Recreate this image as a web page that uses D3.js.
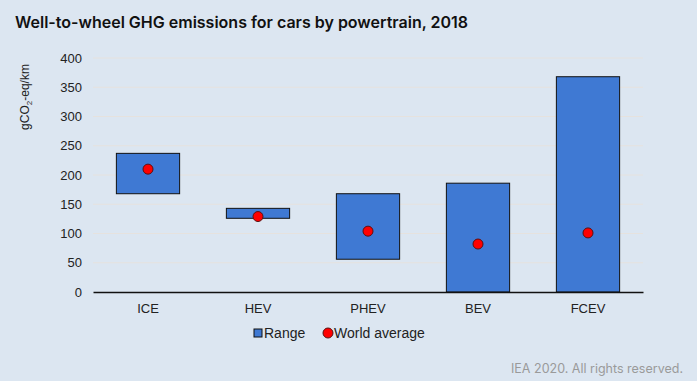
<!DOCTYPE html>
<html>
<head>
<meta charset="utf-8">
<script src="https://cdn.jsdelivr.net/npm/d3@7"></script>
<style>
  body { margin: 0; background: #dce6f1; }
  svg { display: block; font-family: "Liberation Sans", Arial, sans-serif; }
  .title { font-family: Inter, "Open Sans", sans-serif; font-size: 16px; font-weight: 600; fill: #111; }
  .tick text { font-size: 13px; fill: #222; }
  .footer { font-family: Inter, "Open Sans", sans-serif; font-size: 12.5px; fill: #9a9a9a; }
</style>
</head>
<body>
<div id="chart"></div>
<script>
// data
var powertrains = ["ICE", "HEV", "PHEV", "BEV", "FCEV"];
var rangeLow  = [168, 126, 56, 0, 0];
var rangeHigh = [237, 143, 168, 186, 368];
var worldAvg  = [210, 129, 104, 82, 101];
var yTicks = [0, 50, 100, 150, 200, 250, 300, 350, 400];

var W = 697, H = 381;
var margin = {top: 58, right: 54, bottom: 89, left: 93};
var width = W - margin.left - margin.right;
var height = H - margin.top - margin.bottom;

var svg = d3.select("#chart").append("svg")
    .attr("width", W)
    .attr("height", H);

svg.append("rect").attr("width", W).attr("height", H).attr("fill", "#dce6f1");

svg.append("text")
    .attr("class", "title")
    .attr("x", 15)
    .attr("y", 28)
    .text("Well-to-wheel GHG emissions for cars by powertrain, 2018");

var g = svg.append("g")
    .attr("transform", "translate(" + margin.left + "," + margin.top + ")");

var xScale = d3.scaleBand().domain(powertrains).range([0, width]).paddingInner(0.425).paddingOuter(0.2125);
var yScale = d3.scaleLinear().domain([0, 400]).range([height, 0]);

// gridlines
g.selectAll(".grid")
    .data(yTicks.slice(1))
    .enter().append("line")
    .attr("class", "grid")
    .attr("x1", 0).attr("x2", width)
    .attr("y1", function(d) { return yScale(d); })
    .attr("y2", function(d) { return yScale(d); })
    .attr("stroke", "#e6e2de")
    .attr("stroke-width", 1);

// y axis
var yAxis = g.append("g")
    .attr("class", "axis")
    .call(d3.axisLeft(yScale).tickValues(yTicks).tickSize(0).tickPadding(11));
yAxis.select(".domain").remove();

// range bars
var data = powertrains.map(function(p, i) {
  return {name: p, low: rangeLow[i], high: rangeHigh[i], avg: worldAvg[i]};
});

g.selectAll(".bar")
    .data(data)
    .enter().append("rect")
    .attr("class", "bar")
    .attr("x", function(d) { return xScale(d.name); })
    .attr("width", xScale.bandwidth())
    .attr("y", function(d) { return yScale(d.high); })
    .attr("height", function(d) { return yScale(d.low) - yScale(d.high); })
    .attr("fill", "#3f79d3")
    .attr("stroke", "#111")
    .attr("stroke-width", 1);

// x axis
var xAxis = g.append("g")
    .attr("class", "axis")
    .attr("transform", "translate(0," + height + ")")
    .call(d3.axisBottom(xScale).tickSize(0).tickPadding(12));
xAxis.select(".domain").attr("stroke", "#111").attr("stroke-width", 1.3);

// world average dots
g.selectAll(".dot")
    .data(data)
    .enter().append("circle")
    .attr("class", "dot")
    .attr("cx", function(d) { return xScale(d.name) + xScale.bandwidth() / 2; })
    .attr("cy", function(d) { return yScale(d.avg); })
    .attr("r", 5)
    .attr("fill", "#ff0000")
    .attr("stroke", "#5a1010")
    .attr("stroke-width", 1);

// y label
svg.append("text")
    .attr("transform", "translate(29,97) rotate(-90)")
    .attr("text-anchor", "middle")
    .attr("font-size", 12)
    .attr("fill", "#222")
    .html('gCO<tspan font-size="8" dy="3">2</tspan><tspan dy="-3">-eq/km</tspan>');

// legend
var legend = svg.append("g").attr("transform", "translate(254,333)");
legend.append("rect")
    .attr("x", 0).attr("y", -4).attr("width", 8).attr("height", 8)
    .attr("fill", "#3f79d3").attr("stroke", "#111");
legend.append("text")
    .attr("x", 10).attr("y", 5)
    .attr("font-size", 14).attr("fill", "#222")
    .text("Range");
legend.append("circle")
    .attr("cx", 74).attr("cy", 0).attr("r", 5)
    .attr("fill", "#ff0000").attr("stroke", "#5a1010");
legend.append("text")
    .attr("x", 80).attr("y", 5)
    .attr("font-size", 14).attr("fill", "#222")
    .text("World average");

svg.append("text")
    .attr("class", "footer")
    .attr("x", 683)
    .attr("y", 373)
    .attr("text-anchor", "end")
    .text("IEA 2020. All rights reserved.");
</script>
</body>
</html>
